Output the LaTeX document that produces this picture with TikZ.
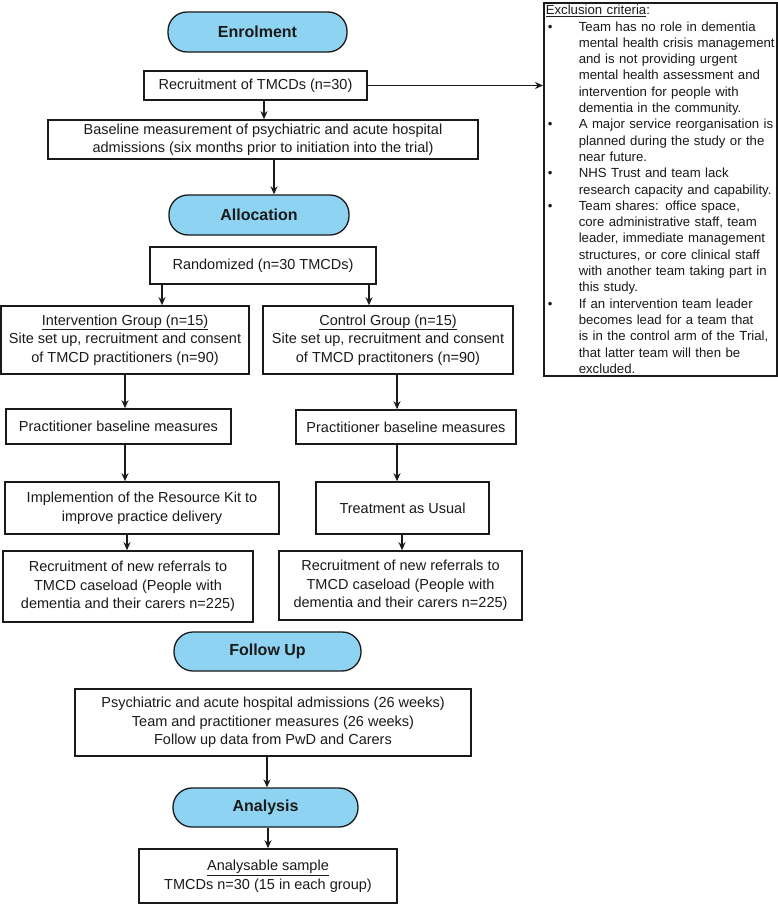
\documentclass[tikz,border=0pt]{standalone}
\usepackage{fontspec}
\setmainfont{Liberation Sans}
\usetikzlibrary{arrows.meta}
\definecolor{pillblue}{HTML}{8ED3F2}
\definecolor{ink}{HTML}{1A1A1A}
\newcommand{\exbul}{\makebox[33pt][l]{\hspace{2pt}\textbullet}}
\newcommand{\exind}{\hspace*{33pt}}
\begin{document}
\begin{tikzpicture}[x=1pt,y=-1pt,
  box/.style={draw=ink, line width=1.6pt, fill=white, inner sep=0pt, align=center, text=ink,
    font=\fontsize{14.5}{18.5}\selectfont},
  pillbox/.style={draw=ink, line width=1.3pt, fill=pillblue, rounded corners=19pt, inner sep=0pt,
    text=ink, font=\fontsize{16}{19}\selectfont\bfseries},
  arr/.style={draw=ink, line width=1.4pt, -{Stealth[length=8pt,width=7pt]}}]
\fill[white] (0,0) rectangle (778,905);
\useasboundingbox (0,0) rectangle (778,905);

% stage pills
\node[pillbox, minimum width=179pt, minimum height=40pt] (enrol) at (257.5,32) {Enrolment};
\node[pillbox, minimum width=180pt, minimum height=40pt] (alloc) at (259,215) {Allocation};
\node[pillbox, minimum width=187pt, minimum height=39pt] (fu) at (267.5,651.5) {Follow Up};
\node[pillbox, minimum width=185pt, minimum height=39pt] (anal) at (265.5,807.5) {Analysis};

% boxes
\node[box, minimum width=223pt, minimum height=29pt] (recr) at (255.5,85.5) {Recruitment of TMCDs (n=30)};
\node[box, minimum width=430pt, minimum height=39pt] (base) at (263,139.5)
  {Baseline measurement of psychiatric and acute hospital\\admissions (six months prior to initiation into the trial)};
\node[box, minimum width=226pt, minimum height=37pt] (rand) at (263,265.5) {Randomized (n=30 TMCDs)};
\node[box, minimum width=248pt, minimum height=68pt] (intv) at (125,340)
  {\underline{Intervention Group (n=15)}\\Site set up, recruitment and consent\\of TMCD practitioners (n=90)};
\node[box, minimum width=250pt, minimum height=68pt] (ctrl) at (388,340)
  {\underline{Control Group (n=15)}\\Site set up, recruitment and consent\\of TMCD practitoners (n=90)};
\node[box, minimum width=225pt, minimum height=35pt] (pbl) at (118.5,426.5) {Practitioner baseline measures};
\node[box, minimum width=220pt, minimum height=34pt] (pbr) at (406,427) {Practitioner baseline measures};
\node[box, minimum width=274pt, minimum height=52pt] (impl) at (142,508)
  {Implemention of the Resource Kit to\\improve practice delivery};
\node[box, minimum width=173pt, minimum height=52pt] (tau) at (402.5,508) {Treatment as Usual};
\node[box, minimum width=250pt, minimum height=71pt] (recl) at (128,586.5)
  {Recruitment of new referrals to\\TMCD caseload (People with\\dementia and their carers n=225)};
\node[box, minimum width=243pt, minimum height=69pt] (recrr) at (400.5,585.5)
  {Recruitment of new referrals to\\TMCD caseload (People with\\dementia and their carers n=225)};
\node[box, minimum width=396pt, minimum height=67pt] (fubox) at (273,722.5)
  {Psychiatric and acute hospital admissions (26 weeks)\\Team and practitioner measures (26 weeks)\\Follow up data from PwD and Carers};
\node[box, minimum width=258pt, minimum height=54pt] (analbox) at (268,876)
  {\underline{Analysable sample}\\TMCDs n=30 (15 in each group)};

% exclusion criteria
\node[box, anchor=north west, minimum width=233pt, minimum height=373pt, text width=229pt,
  inner xsep=2pt, align=left, font=\fontsize{13.2}{16.3}\selectfont] (excl) at (543,2)
  {\underline{Exclusion criteria}:\\
  \exbul Team has no role in dementia\\
  \exind mental health crisis management\\
  \exind and is not providing urgent\\
  \exind mental health assessment and\\
  \exind intervention for people with\\
  \exind dementia in the community.\\
  \exbul A major service reorganisation is\\
  \exind planned during the study or the\\
  \exind near future.\\
  \exbul NHS Trust and team lack\\
  \exind research capacity and capability.\\
  \exbul Team shares: office space,\\
  \exind core administrative staff, team\\
  \exind leader, immediate management\\
  \exind structures, or core clinical staff\\
  \exind with another team taking part in\\
  \exind this study.\\
  \exbul If an intervention team leader\\
  \exind becomes lead for a team that\\
  \exind is in the control arm of the Trial,\\
  \exind that latter team will then be\\
  \exind excluded.};

% connectors
\draw[arr] (recr.east) -- (recr.east -| excl.west);
\draw[arr] (recr.south -| 264,0) -- (base.north -| 264,0);
\draw[arr] (base.south -| 274,0) -- (alloc.north -| 274,0);
\draw[arr] (rand.south -| 162,0) -- (intv.north -| 162,0);
\draw[arr] (rand.south -| 369,0) -- (ctrl.north -| 369,0);
\draw[arr] (intv.south -| 125,0) -- (pbl.north -| 125,0);
\draw[arr] (ctrl.south -| 397,0) -- (pbr.north -| 397,0);
\draw[arr] (pbl.south -| 125,0) -- (impl.north -| 125,0);
\draw[arr] (pbr.south -| 397,0) -- (tau.north -| 397,0);
\draw[arr] (impl.south -| 127,0) -- (recl.north -| 127,0);
\draw[arr] (tau.south -| 402,0) -- (recrr.north -| 402,0);
\draw[arr] (fubox.south -| 267,0) -- (anal.north -| 267,0);
\draw[arr] (anal.south -| 268,0) -- (analbox.north -| 268,0);
\end{tikzpicture}
\end{document}
